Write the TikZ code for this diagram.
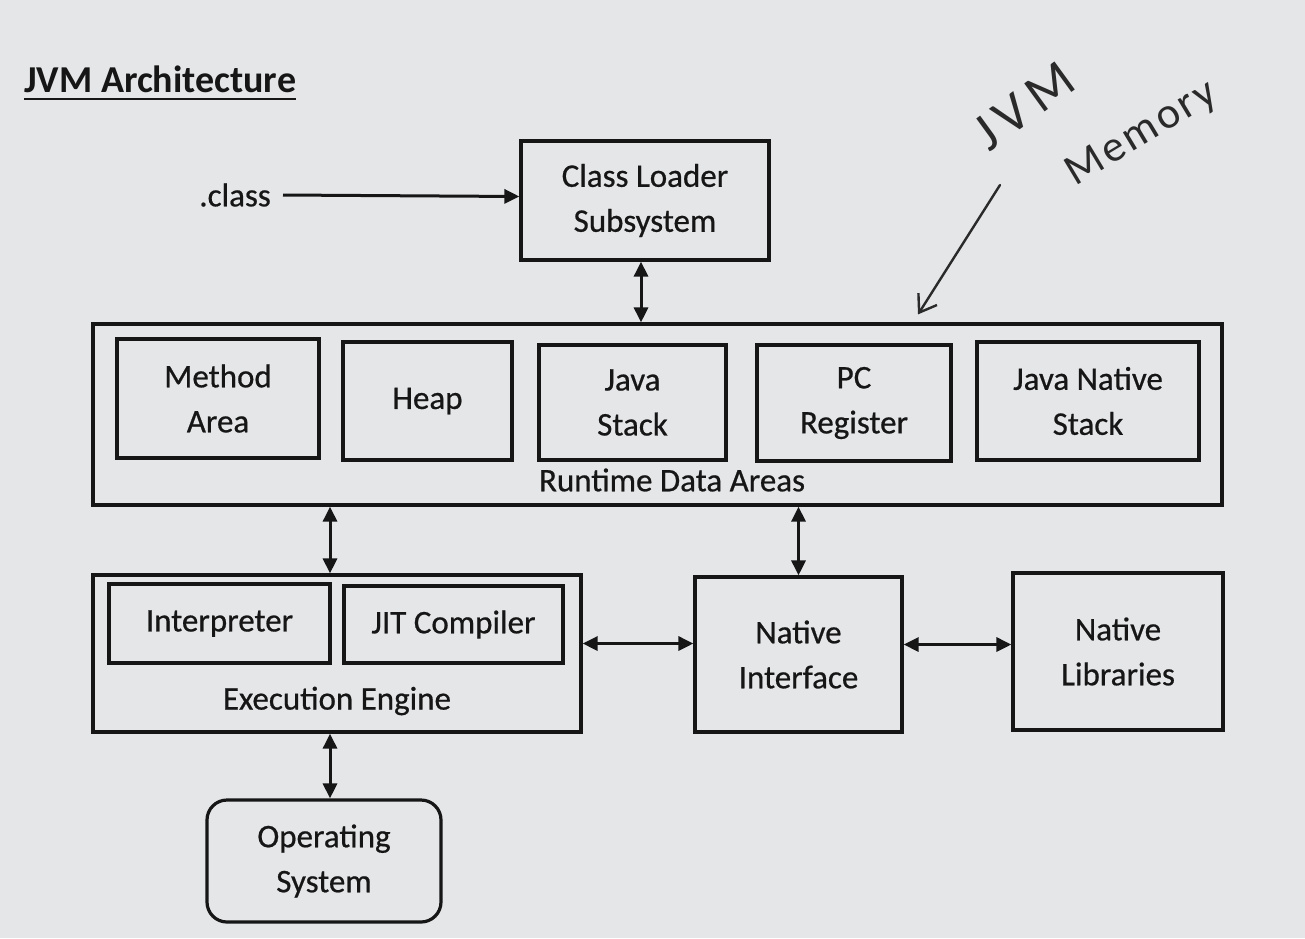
\documentclass[tikz,border=0pt]{standalone}
\usepackage{fontspec}
\setmainfont{Carlito}
\newfontfamily\boxfont[FakeBold=0.6]{Carlito}
\usetikzlibrary{arrows.meta,calc}
\definecolor{paper}{HTML}{E4E6E8}
\definecolor{ink}{HTML}{161616}
\definecolor{pen}{HTML}{2A2A2A}
\tikzset{
  box/.style={draw=ink, line width=3.2pt, inner sep=0pt, align=center, text=ink,
    font=\boxfont\fontsize{33}{45}\selectfont},
  lbl/.style={text=ink, inner sep=0pt, font=\boxfont\fontsize{33}{45}\selectfont},
  darr/.style={draw=ink, line width=3pt, {Triangle[length=15pt,width=14pt]}-{Triangle[length=15pt,width=14pt]}},
  sarr/.style={draw=ink, line width=3pt, -{Triangle[length=15pt,width=14pt]}},
  hand/.style={text=pen, inner sep=0pt, font=\fontsize{54}{60}\selectfont},
}
\begin{document}
\begin{tikzpicture}[x=1pt,y=-1pt]
\fill[paper] (0,0) rectangle (1305,938);
\useasboundingbox (0,0) rectangle (1305,938);

% title
\node[text=ink, inner sep=0pt, anchor=base west, font=\fontsize{38}{44}\selectfont\bfseries] (title) at (24,92) {JVM Architecture};
\draw[ink, line width=2.8pt] (title.base west) ++(0,7) coordinate (ul1) -- (ul1 -| title.east);

% class loader
\node[lbl, anchor=east] (dotclass) at (271,195) {.class};
\node[box, minimum width=248pt, minimum height=119pt] (cls) at (645,200.5) {Class Loader\\Subsystem};

% runtime data areas
\node[box, minimum width=1129pt, minimum height=181pt] (rda) at (657.5,414.5) {};
\node[lbl] (rdalbl) at (672,480) {Runtime Data Areas};
\node[box, minimum width=202pt, minimum height=119pt] (ma) at (218,398.5) {Method\\Area};
\node[box, minimum width=169pt, minimum height=118pt] (heap) at (427.5,401) {Heap};
\node[box, minimum width=187pt, minimum height=115pt] (js) at (632.5,402.5) {Java\\Stack};
\node[box, minimum width=194pt, minimum height=116pt] (pc) at (854,403) {PC\\Register};
\node[box, minimum width=222pt, minimum height=118pt] (jns) at (1088,401) {Java Native\\Stack};

% execution engine
\node[box, minimum width=488pt, minimum height=157pt] (ee) at (337,653.5) {};
\node[lbl] (eelbl) at (337,701) {Execution Engine};
\node[box, minimum width=221pt, minimum height=79pt] (interp) at (219.5,623.5) {Interpreter};
\node[box, minimum width=219pt, minimum height=77pt] (jit) at (453.5,624.5) {JIT Compiler};

% native
\node[box, minimum width=207pt, minimum height=155pt] (ni) at (798.5,654.5) {Native\\Interface};
\node[box, minimum width=210pt, minimum height=157pt] (nl) at (1118,651.5) {Native\\Libraries};

% OS
\node[box, rounded corners=20pt, minimum width=234pt, minimum height=122pt] (os) at (324,861) {Operating\\System};
\coordinate (vx) at (330,0);

% connectors
\draw[sarr] ([xshift=12pt]dotclass.east) -- ([yshift=4pt]cls.west);
\draw[darr] ([xshift=-4pt]cls.south) -- ([xshift=-4pt]cls.south |- rda.north);
\draw[darr] (rda.south -| vx) -- (ee.north -| vx);
\draw[darr] (ee.south -| vx) -- (os.north -| vx);
\draw[darr] (rda.south -| ni.north) -- (ni.north);
\draw[darr] ([yshift=10pt]ee.east) -- ([yshift=10pt]ee.east -| ni.west);
\draw[darr] ([yshift=10pt]ni.east) -- ([yshift=10pt]ni.east -| nl.west);

% handwritten note
\node[hand, rotate=36] (jvm) at (1024,106) {J\kern8pt V\kern8pt M};
\node[hand, rotate=31, font=\fontsize{44}{48}\selectfont] (mem) at (1142,134) {M\kern3pt e\kern3pt m\kern3pt o\kern3pt r\kern3pt y};
\coordinate (handstart) at (1000,185);
\draw[pen, line width=2.4pt, line cap=round, -{Straight Barb[length=16pt,width=22pt,line width=2.4pt]}] (handstart) -- ([xshift=-2pt,yshift=8pt]rda.north -| 920,0);
\end{tikzpicture}
\end{document}
